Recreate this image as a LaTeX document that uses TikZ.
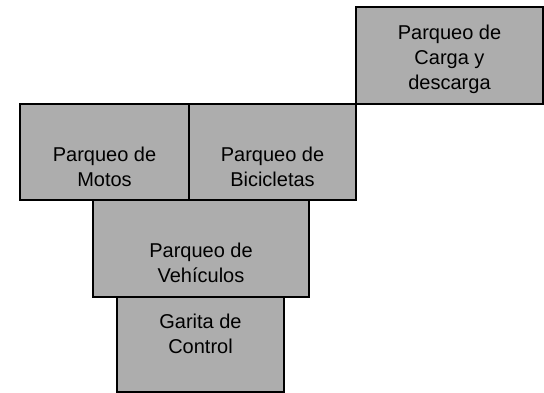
\documentclass[tikz,border=0pt]{standalone}
\usepackage{fontspec}
\setmainfont{Liberation Sans}
\definecolor{zonagris}{RGB}{173,173,173}
\tikzset{
  zona/.style={draw, line width=1.2pt, fill=zonagris, inner sep=0pt, outer sep=0pt},
  rotulo/.style={align=center, inner sep=0pt, font=\fontsize{20}{25}\selectfont}
}
\begin{document}
\begin{tikzpicture}[x=1pt, y=-1pt]
\useasboundingbox (0,0) rectangle (544,393);
% zonas del plano
\node[zona, minimum width=187pt, minimum height=97pt] (carga) at (449.5,55.5) {};
\node[zona, minimum width=169pt, minimum height=96pt] (motos) at (104.5,152) {};
\node[zona, minimum width=167pt, minimum height=96pt] (bicis) at (272.5,152) {};
\node[zona, minimum width=216pt, minimum height=97pt] (vehiculos) at (201,248.5) {};
\node[zona, minimum width=167pt, minimum height=95pt] (garita) at (200.5,344.5) {};
% rotulos
\node[rotulo] (carga-txt) at (449.5,59) {Parqueo de\\Carga y\\descarga};
\node[rotulo] (motos-txt) at (104.5,167) {Parqueo de\\Motos};
\node[rotulo] (bicis-txt) at (272.5,167) {Parqueo de\\Bicicletas};
\node[rotulo] (vehiculos-txt) at (201,263) {Parqueo de\\Vehículos};
\node[rotulo] (garita-txt) at (200.5,334) {Garita de\\Control};
\end{tikzpicture}
\end{document}
